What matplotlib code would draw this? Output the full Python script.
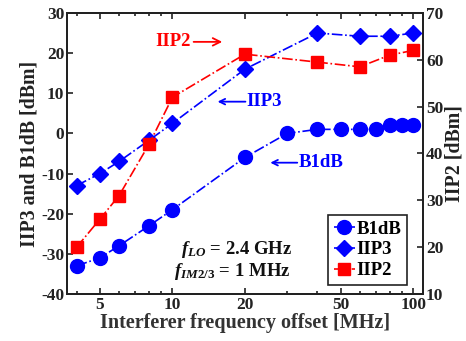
import matplotlib
matplotlib.use('Agg')
import matplotlib.pyplot as plt
from matplotlib.ticker import FixedLocator, NullFormatter

plt.rcParams.update({
    'font.family': 'Liberation Serif',
    'font.weight': 'bold',
    'axes.labelweight': 'bold',
    'axes.unicode_minus': False,
    'mathtext.fontset': 'custom',
    'mathtext.it': 'Liberation Serif:italic:bold',
    'mathtext.rm': 'Liberation Serif:bold',
    'xtick.direction': 'in',
    'ytick.direction': 'in',
})

# ============================================================
# Data
# ============================================================
freq_b1db = [4, 5, 6, 8, 10, 20, 30, 40, 50, 60, 70, 80, 90, 100]
b1db = [-33, -31, -28, -23, -19, -6, 0, 1, 1, 1, 1, 2, 2, 2]

freq_iip = [4, 5, 6, 8, 10, 20, 40, 60, 80, 100]
iip3 = [-13, -10, -7, -1.7, 2.5, 16, 25, 24.2, 24.2, 25]
iip2 = [20, 26, 31, 42, 52, 61.2, 59.5, 58.5, 61, 62]

xticks = [5, 10, 20, 50, 100]

BLUE = '#0000ff'
RED = '#ff0000'

fig = plt.figure(figsize=(4.66, 3.41), dpi=100)
ax = fig.add_axes([0.144, 0.138, 0.764, 0.824])
ax2 = ax.twinx()

l1, = ax.plot(freq_b1db, b1db, '-.', color=BLUE, marker='o', markersize=10,
              lw=1.2, label='B1dB')
l2, = ax.plot(freq_iip, iip3, '-.', color=BLUE, marker='D', markersize=8.5,
              lw=1.2, label='IIP3')
l3, = ax2.plot(freq_iip, iip2, '-.', color=RED, marker='s', markersize=8,
               lw=1.2, label='IIP2')

ax.set_xscale('log')
ax.set_xlim(3.65, 110)
ax.set_ylim(-40, 30)
ax2.set_ylim(10, 70)
ax.set_yticks(range(-40, 31, 10))
ax2.set_yticks(range(10, 71, 10))
ax.xaxis.set_major_locator(FixedLocator(xticks))
ax.xaxis.set_minor_locator(FixedLocator([4, 6, 7, 8, 9, 30, 40, 60, 70, 80, 90]))
ax.xaxis.set_minor_formatter(NullFormatter())
ax.set_xticklabels([str(t) for t in xticks])

for a in (ax, ax2):
    a.tick_params(which='both', labelsize=12.5, colors='#222222', width=1.2,
                  top=True, labelcolor='#222222', pad=2)
    a.tick_params(which='major', length=4)
    a.tick_params(which='minor', length=2)
    for s in a.spines.values():
        s.set_linewidth(1.4)
        s.set_color('#222222')
ax.tick_params(axis='y', right=False)

ax.set_xlabel('Interferer frequency offset [MHz]', fontsize=14.5,
              color='#333333', labelpad=0)
ax.set_ylabel('IIP3 and B1dB [dBm]', fontsize=14.3, color='#222222',
              labelpad=1)
ax2.set_ylabel('IIP2 [dBm]', fontsize=14.3, color='#222222', labelpad=1)

# annotations
ax.annotate('IIP2', xy=(16.1, 22.8), xytext=(8.5, 22.8), color=RED,
            fontsize=13.5, va='center', ha='left',
            arrowprops=dict(arrowstyle='->', color=RED, lw=1.3,
                            shrinkA=0, shrinkB=0))
ax.annotate('', xy=(15.4, 7.9), xytext=(20.1, 7.9),
            arrowprops=dict(arrowstyle='->', color=BLUE, lw=1.3,
                            shrinkA=0, shrinkB=0))
ax.text(20.3, 7.9, 'IIP3', color=BLUE, fontsize=13.5, va='center', ha='left')
ax.annotate('', xy=(25.5, -7.3), xytext=(33, -7.3),
            arrowprops=dict(arrowstyle='->', color=BLUE, lw=1.3,
                            shrinkA=0, shrinkB=0))
ax.text(33.3, -7.3, 'B1dB', color=BLUE, fontsize=13.5, va='center', ha='left')

ax.text(10.8, -29.0, r'$f_{LO}$ = 2.4 GHz', fontsize=13.5, color='#111111',
        va='center')
ax.text(10.1, -34.4, r'$f_{IM2/3}$ = 1 MHz', fontsize=13.5, color='#111111',
        va='center')

leg = ax.legend(handles=[l1, l2, l3], loc='lower right',
                bbox_to_anchor=(0.955, 0.032), fontsize=13.5,
                handlelength=1.1, handletextpad=0.1, borderpad=0.3,
                labelspacing=0.2, fancybox=False, framealpha=1,
                edgecolor='#222222', borderaxespad=0)
leg.get_frame().set_linewidth(1.2)
leg.set_zorder(5)

fig.savefig('out.png', dpi=100)
